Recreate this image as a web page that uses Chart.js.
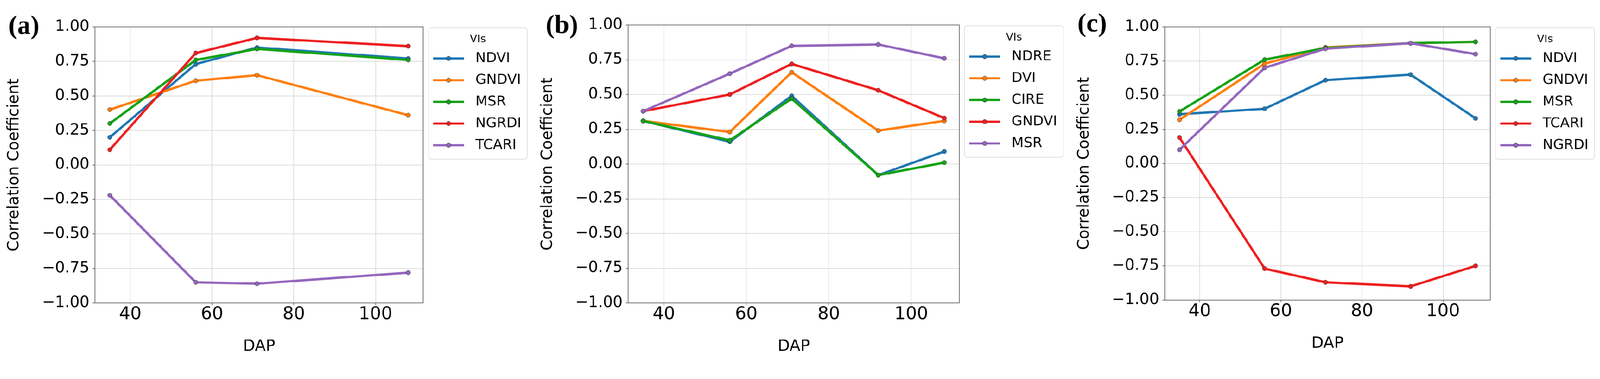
<!DOCTYPE html>
<html>
<head>
<meta charset="utf-8">
<script src="https://cdn.jsdelivr.net/npm/chart.js@4.4.1/dist/chart.umd.min.js"></script>
<style>
  html, body { margin: 0; padding: 0; background: #fff; overflow: hidden; }
  #wrap { position: relative; width: 4348px; height: 971px; transform-origin: 0 0; }
  #wrap canvas { position: absolute; top: 0; }
</style>
</head>
<body>
<div id="wrap">
  <canvas id="chartA" width="1450" height="971" style="left:0px"></canvas>
  <canvas id="chartB" width="1450" height="971" style="left:1450px"></canvas>
  <canvas id="chartC" width="1448" height="971" style="left:2900px"></canvas>
</div>
<script>
// fit the 4348x971 figure into whatever the viewport really is
const fit = Math.min(window.innerWidth / 4348, window.innerHeight / 971);
document.getElementById('wrap').style.transform = `scale(${fit})`;

Chart.defaults.font.family = "'DejaVu Sans', sans-serif";
Chart.defaults.color = '#000';

// Days after planting
const dapA = [35, 56, 71, 108];
const dapBC = [35, 56, 71, 92, 108];
const xTicks = [40, 60, 80, 100];
const yTicks = [-1, -0.75, -0.5, -0.25, 0, 0.25, 0.5, 0.75, 1];

// (a)
const namesA = ['NDVI', 'GNDVI', 'MSR', 'NGRDI', 'TCARI'];
const ndviA = [0.20, 0.73, 0.85, 0.77];
const gndviA = [0.40, 0.61, 0.65, 0.36];
const msrA = [0.30, 0.76, 0.84, 0.76];
const ngrdiA = [0.11, 0.81, 0.92, 0.86];
const tcariA = [-0.22, -0.85, -0.86, -0.78];

// (b)
const namesB = ['NDRE', 'DVI', 'CIRE', 'GNDVI', 'MSR'];
const ndreB = [0.31, 0.16, 0.49, -0.08, 0.09];
const dviB = [0.31, 0.23, 0.66, 0.24, 0.31];
const cireB = [0.31, 0.17, 0.47, -0.08, 0.01];
const gndviB = [0.38, 0.50, 0.72, 0.53, 0.33];
const msrB = [0.38, 0.65, 0.85, 0.86, 0.76];

// (c)
const namesC = ['NDVI', 'GNDVI', 'MSR', 'TCARI', 'NGRDI'];
const ndviC = [0.36, 0.40, 0.61, 0.65, 0.33];
const gndviC = [0.32, 0.73, 0.85, 0.88, 0.89];
const msrC = [0.38, 0.76, 0.845, 0.88, 0.89];
const tcariC = [0.19, -0.77, -0.87, -0.90, -0.75];
const ngrdiC = [0.10, 0.70, 0.84, 0.88, 0.80];

const palette = ['#1f77b4', '#ff7f0e', '#16a316', '#ee1f1f', '#9467bd'];

// axes frame (all four spines)
const framePlugin = {
  id: 'frame',
  afterDatasetsDraw(chart) {
    const { ctx, chartArea: a } = chart;
    ctx.save();
    ctx.strokeStyle = '#6e6e6e';
    ctx.lineWidth = 2;
    ctx.strokeRect(a.left, a.top, a.right - a.left, a.bottom - a.top);
    ctx.restore();
  }
};

// matplotlib-like legend box to the right of the plot
const viLegend = {
  id: 'viLegend',
  afterDraw(chart, args, opts) {
    const { ctx, chartArea: a } = chart;
    const left = a.right + 14, top = a.top + 2, w = 269, h = 358, r = 8;
    ctx.save();
    ctx.beginPath();
    ctx.moveTo(left + r, top);
    ctx.arcTo(left + w, top, left + w, top + h, r);
    ctx.arcTo(left + w, top + h, left, top + h, r);
    ctx.arcTo(left, top + h, left, top, r);
    ctx.arcTo(left, top, left + w, top, r);
    ctx.closePath();
    ctx.fillStyle = '#fff';
    ctx.fill();
    ctx.strokeStyle = '#dedede';
    ctx.lineWidth = 2;
    ctx.stroke();

    ctx.fillStyle = '#000';
    ctx.textAlign = 'center';
    ctx.textBaseline = 'middle';
    ctx.font = "29px 'DejaVu Sans'";
    ctx.fillText(opts.title, left + w / 2, top + 32);

    ctx.font = "38px 'DejaVu Sans'";
    ctx.textAlign = 'left';
    chart.data.datasets.forEach((ds, i) => {
      const y = top + 84 + i * 59;
      ctx.strokeStyle = ds.borderColor;
      ctx.lineWidth = 6;
      ctx.beginPath();
      ctx.moveTo(left + 13, y);
      ctx.lineTo(left + 97, y);
      ctx.stroke();
      ctx.beginPath();
      ctx.arc(left + 55, y, 6, 0, Math.PI * 2);
      ctx.fillStyle = ds.backgroundColor;
      ctx.fill();
      ctx.lineWidth = 1;
      ctx.strokeStyle = '#333';
      ctx.stroke();
      ctx.fillStyle = '#000';
      ctx.fillText(ds.label, left + 128, y);
    });
    ctx.restore();
  }
};

// (a) (b) (c) tags
const panelTag = {
  id: 'panelTag',
  afterDraw(chart, args, opts) {
    const { ctx } = chart;
    ctx.save();
    ctx.font = "bold 72px 'Liberation Serif', serif";
    ctx.fillStyle = '#000';
    ctx.textAlign = 'left';
    ctx.textBaseline = 'alphabetic';
    ctx.fillText(opts.text, opts.x, opts.y);
    ctx.restore();
  }
};

function makeChart(id, dap, names, series, g, tag) {
  const canvas = document.getElementById(id);
  return new Chart(canvas, {
    type: 'line',
    data: {
      datasets: series.map((vals, i) => ({
        label: names[i],
        data: dap.map((d, j) => ({ x: d, y: vals[j] })),
        borderColor: palette[i],
        backgroundColor: palette[i],
        pointBackgroundColor: palette[i],
        pointBorderColor: 'rgba(40,40,40,0.85)',
        pointBorderWidth: 1,
        pointRadius: 6,
        borderWidth: 6.5,
        tension: 0,
        order: series.length - i  // later series on top
      }))
    },
    options: {
      responsive: false,
      animation: false,
      devicePixelRatio: Math.max(1, window.devicePixelRatio || 1),
      layout: {
        padding: { left: g.padLeft, top: g.top, right: canvas.width - g.right, bottom: g.padBottom }
      },
      plugins: {
        legend: { display: false },
        tooltip: { enabled: false },
        viLegend: { title: 'VIs' },
        panelTag: tag
      },
      scales: {
        x: {
          type: 'linear',
          min: 31.35,
          max: 111.65,
          afterBuildTicks: s => { s.ticks = xTicks.map(v => ({ value: v })); },
          afterFit: s => { s.height = 971 - g.bottom - g.padBottom; },
          ticks: { font: { size: 48, lineHeight: 1 }, padding: 2, color: '#000' },
          grid: { color: '#dcdcdc', lineWidth: 2, tickColor: '#6e6e6e', tickLength: 6, tickWidth: 2 },
          border: { display: false },
          title: { display: true, text: 'DAP', font: { size: 43, lineHeight: 1 }, padding: { top: 0, bottom: 7 } }
        },
        y: {
          min: -1,
          max: 1,
          afterBuildTicks: s => { s.ticks = yTicks.map(v => ({ value: v })); },
          afterFit: s => { s.width = g.left - g.padLeft; },
          ticks: {
            font: { size: 42 },
            padding: 9,
            color: '#000',
            callback: v => v.toFixed(2).replace('-', '\u2212')
          },
          grid: { color: '#dcdcdc', lineWidth: 2, tickColor: '#6e6e6e', tickLength: 6, tickWidth: 2 },
          border: { display: false },
          title: { display: true, text: 'Correlation Coefficient', font: { size: 42, lineHeight: 1 }, padding: { top: 18, bottom: 0 } }
        }
      }
    },
    plugins: [framePlugin, viLegend, panelTag]
  });
}

makeChart('chartA', dapA, namesA, [ndviA, gndviA, msrA, ngrdiA, tcariA],
  { left: 258, top: 73, right: 1150, bottom: 824, padLeft: 0, padBottom: 0 },
  { text: '(a)', x: 23, y: 92 });
makeChart('chartB', dapBC, namesB, [ndreB, dviB, cireB, gndviB, msrB],
  { left: 257, top: 68, right: 1157, bottom: 824, padLeft: 0, padBottom: 0 },
  { text: '(b)', x: 33, y: 90 });
makeChart('chartC', dapBC, namesC, [ndviC, gndviC, msrC, tcariC, ngrdiC],
  { left: 265, top: 73, right: 1150, bottom: 816, padLeft: 8, padBottom: 8 },
  { text: '(c)', x: 28, y: 86 });
</script>
</body>
</html>
